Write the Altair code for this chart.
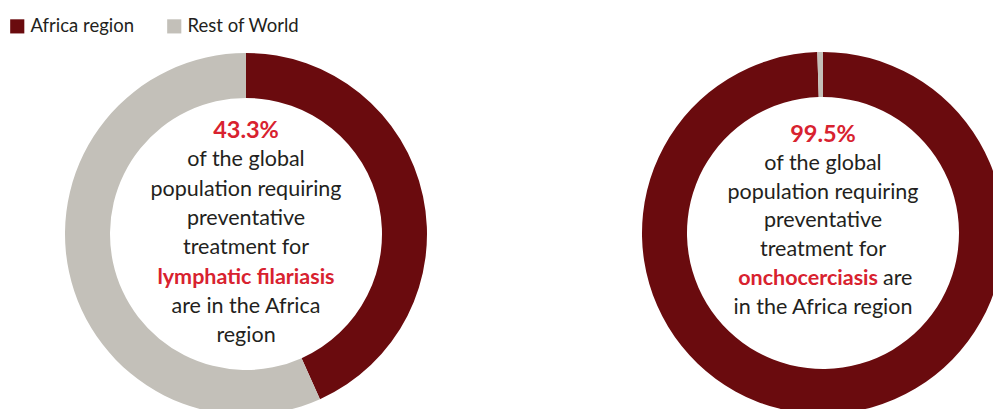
import altair as alt
import pandas as pd

# ---- data ----
regions = ["Africa region", "Rest of World"]
lf_share = [43.3, 56.7]          # lymphatic filariasis
oncho_share = [99.5, 0.5]        # onchocerciasis
region_colors = ["#6a0b0e", "#c3c0b9"]

left_text = ["43.3%", "of the global", "population requiring", "preventative",
             "treatment for", "lymphatic filariasis", "are in the Africa", "region"]
left_style = ["pct", "body", "body", "body", "body", "disease", "body", "body"]

right_text = ["99.5%", "of the global", "population requiring", "preventative",
              "treatment for", "onchocerciasis", "are", "in the Africa region"]
right_style = ["pct", "body", "body", "body", "body", "disease", "body", "body"]
right_line = [0, 1, 2, 3, 4, 5, 5, 6]

# ---- layout ----
W, H = 993, 409
LCX, LCY = 246, 234
RCX, RCY = 823, 233
R_OUT, R_IN = 181, 136
LINE_H = 29.3
FONT = "Lato"
FS = 21.5
PCT_FS = 23.5
RED = "#d8222f"
INK = "#231f20"

lf_df = pd.DataFrame({"region": regions, "value": lf_share, "ord": [0, 1]})
on_df = pd.DataFrame({"region": regions, "value": oncho_share, "ord": [0, 1]})

rows = []
for i, (t, s) in enumerate(zip(left_text, left_style)):
    rows.append({"text": t, "style": s, "x": LCX, "y": 131 + i * LINE_H, "align": "center"})
for t, s, ln in zip(right_text, right_style, right_line):
    x, al = RCX, "center"
    if t == "onchocerciasis":
        x, al = RCX + 55, "right"
    elif t == "are":
        x, al = RCX + 60, "left"
    rows.append({"text": t, "style": s, "x": x, "y": 135 + ln * 28.8, "align": al})
txt = pd.DataFrame(rows)

color = alt.Color(
    "region:N",
    scale=alt.Scale(domain=regions, range=region_colors),
    legend=alt.Legend(
        title=None, orient="none", legendX=8, legendY=17, direction="horizontal",
        symbolType="square", symbolSize=200, symbolStrokeWidth=0, symbolOpacity=1,
        labelFont=FONT, labelFontSize=18.5, labelColor=INK, labelOffset=4,
        columnPadding=30,
    ),
)


def donut(df, cx, cy):
    return alt.Chart(df).mark_arc(
        x=cx, y=cy, outerRadius=R_OUT, innerRadius=R_IN, strokeWidth=0
    ).encode(
        theta=alt.Theta("value:Q", stack=True, scale=alt.Scale(domain=[0, 100])),
        order=alt.Order("ord:Q"),
        color=color,
    )


def text_layer(style, align, color_value, weight, size):
    d = txt[(txt["style"] == style) & (txt["align"] == align)]
    return alt.Chart(d).mark_text(
        font=FONT, fontSize=size, color=color_value, fontWeight=weight,
        align=align, baseline="middle",
    ).encode(
        x=alt.X("x:Q", scale=None),
        y=alt.Y("y:Q", scale=None),
        text="text:N",
    )


layers = [donut(lf_df, LCX, LCY), donut(on_df, RCX, RCY)]
for style, col, wt, sz in [("pct", RED, "bold", PCT_FS), ("body", INK, "normal", FS),
                           ("disease", RED, "bold", FS)]:
    for al in ["center", "left", "right"]:
        if ((txt["style"] == style) & (txt["align"] == al)).any():
            layers.append(text_layer(style, al, col, wt, sz))

chart = alt.layer(*layers).properties(
    width=W, height=H, autosize=alt.AutoSizeParams(type="none"), padding=0,
    background="white",
).configure_view(stroke=None)

chart.save("out.html", embed_options={"renderer": "svg", "actions": False})
